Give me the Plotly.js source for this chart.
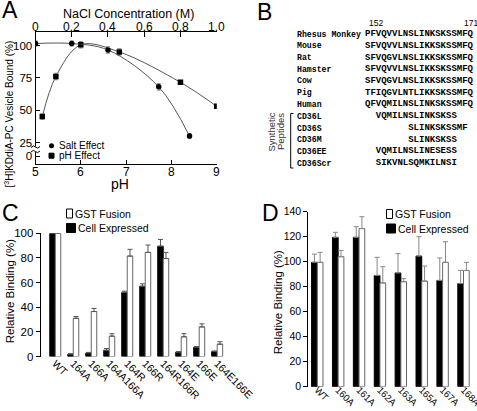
<!DOCTYPE html>
<html>
<head>
<meta charset="utf-8">
<script src="https://cdn.plot.ly/plotly-3.0.1.min.js"></script>
<style>html,body{margin:0;padding:0;background:#fff;}#chart{width:477px;height:411px;}</style>
</head>
<body>
<div id="chart"></div>
<script>
// ---------- Panel A data ----------
const saltConc = [0, 0.2, 0.4, 0.68, 0.85];
const saltBound = [101.5, 101.5, 96.5, 68, 30];
const saltErr = [2, 2, 2.5, 2.5, 2];
const phValues = [5.15, 5.45, 6.0, 6.85, 8.2, 9.0];
const phBound = [45, 76, 100.5, 95, 71.5, 53];
const phErr = [2, 2.5, 2.5, 2.5, 1.5, 1.5];
const phTickVals = [5, 6, 7, 8, 9];
const aYTickVals = [14.3, 25, 50, 75, 100];
const aYTickText = ['0', '25', '50', '75', '100'];
const naclTickVals = [0, 0.2, 0.4, 0.6, 0.8, 1.0];
const naclTickText = ['0', '0.2', '0.4', '0.6', '0.8', '1.0'];

// ---------- Panel B data ----------
const species = ['Rhesus Monkey', 'Mouse', 'Rat', 'Hamster', 'Cow', 'Pig', 'Human'];
const speciesSeqs = ['PFVQVVLNSLINKSKSSMFQ', 'SFVQVVLNSLIKKSKSSMFQ', 'SFVQGVLNSLIKKSKSSMFQ',
  'SFVQVVLNSLIKKSKSSMFQ', 'SFVQGVLNSLIKKSKSSMFQ', 'TFIQGVLNTLIKKSKSSMFQ', 'QFVQMILNSLINKSKSSMFQ'];
const peptides = ['CD36L', 'CD36S', 'CD36M', 'CD36EE', 'CD36Scr'];
const peptideSeqs = ['VQMILNSLINKSKSS', 'SLINKSKSSMF', 'SLINKSKSS', 'VQMILNSLINESESS', 'SIKVNLSQMKILNSI'];
const peptideStart = [154, 160, 160, 154, 154];
const seqFirst = 152, seqLast = 171;

// ---------- Panel C data ----------
const catsC = ['WT', '164A', '166A', '164A166A', '164R', '166R', '164R166R', '164E', '166E', '164E166E'];
const cellC = [100, 1.8, 2.8, 5, 52, 57, 89.5, 3.5, 7.5, 4];
const cellErrC = [2.5, 0.5, 0.5, 1.5, 1, 2, 5.5, 0.5, 0.5, 0.5];
const gstC = [100, 31, 36.5, 16.5, 81.5, 84.5, 79.5, 16, 24, 10];
const gstErrC = [5.5, 1.5, 2.5, 2, 5.5, 6, 5, 2.5, 2.5, 2];

// ---------- Panel D data ----------
const catsD = ['WT', '160A', '161A', '162A', '163A', '165A', '167A', '168A'];
const cellD = [99.5, 119.5, 119.5, 89, 91, 104.5, 85, 82.5];
const cellErrD = [6.5, 4, 8.5, 14.5, 15.5, 15.5, 18, 10.5];
const gstD = [99.5, 104, 126.5, 83, 84, 84.5, 99.5, 93];
const gstErrD = [8, 5, 9.5, 13, 2.5, 12, 16.5, 6.5];

const legendNames = ['GST Fusion', 'Cell Expressed'];

// ---------- helpers ----------
const W = 477, H = 411;
const px = x => x / W;
const py = y => 1 - y / H;
const SANS = 'Liberation Sans, Arial, sans-serif';
const MONO = 'Liberation Mono, Courier New, monospace';
const zeros = a => a.map(() => 0);

const errStyle = (arr, col) => ({type: 'data', array: arr, symmetric: false, arrayminus: zeros(arr),
  color: col, thickness: 1, width: 2.5});

const traces = [];
// Panel A
traces.push({x: saltConc, y: saltBound, xaxis: 'x2', yaxis: 'y', mode: 'lines',
  line: {shape: 'spline', smoothing: 1, color: '#444', width: 0.9}, hoverinfo: 'skip'});
traces.push({x: phValues, y: phBound, xaxis: 'x', yaxis: 'y', mode: 'lines',
  line: {shape: 'spline', smoothing: 1, color: '#444', width: 0.9}, hoverinfo: 'skip'});
traces.push({x: saltConc, y: saltBound, xaxis: 'x2', yaxis: 'y', mode: 'markers',
  marker: {symbol: 'circle', size: 5.5, color: '#000'},
  error_y: {type: 'data', array: saltErr, color: '#888', thickness: 1, width: 2}});
traces.push({x: phValues, y: phBound, xaxis: 'x', yaxis: 'y', mode: 'markers',
  marker: {symbol: 'square', size: 5.5, color: '#000'},
  error_y: {type: 'data', array: phErr, color: '#888', thickness: 1, width: 2}});

// Panel C
const wC = 0.305;
traces.push({type: 'bar', x: catsC, y: cellC, xaxis: 'x3', yaxis: 'y3', width: wC, offset: -wC,
  marker: {color: '#000', line: {color: '#000', width: 1}}, cliponaxis: false,
  error_y: errStyle(cellErrC, '#555')});
traces.push({type: 'bar', x: catsC, y: gstC, xaxis: 'x3', yaxis: 'y3', width: wC, offset: 0,
  marker: {color: '#fff', line: {color: '#666', width: 1}}, cliponaxis: false,
  error_y: errStyle(gstErrC, '#555')});

// Panel D
const wD = 0.273;
traces.push({type: 'bar', x: catsD, y: cellD, xaxis: 'x4', yaxis: 'y4', width: wD, offset: -wD,
  marker: {color: '#000', line: {color: '#000', width: 1}}, cliponaxis: false,
  error_y: errStyle(cellErrD, '#888')});
traces.push({type: 'bar', x: catsD, y: gstD, xaxis: 'x4', yaxis: 'y4', width: wD, offset: 0,
  marker: {color: '#fff', line: {color: '#666', width: 1}}, cliponaxis: false,
  error_y: errStyle(gstErrD, '#888')});

const baseAx = {showgrid: false, zeroline: false, showline: true, linecolor: '#000', linewidth: 1,
  tickcolor: '#000', tickwidth: 1, automargin: false};

const layout = {
  width: W, height: H, margin: {l: 0, r: 0, t: 0, b: 0},
  paper_bgcolor: '#fff', plot_bgcolor: 'rgba(0,0,0,0)', showlegend: false,
  font: {family: SANS, color: '#000', size: 11},
  barmode: 'overlay',
  xaxis: Object.assign({}, baseAx, {domain: [px(35.5), px(216.7)], range: [5, 9], anchor: 'y',
    tickvals: phTickVals, ticks: 'inside', ticklen: 4, showticklabels: false}),
  xaxis2: Object.assign({}, baseAx, {overlaying: 'x', side: 'top', anchor: 'y', range: [0, 1],
    tickvals: naclTickVals, ticks: 'inside', ticklen: 5, showticklabels: false}),
  yaxis: Object.assign({}, baseAx, {domain: [py(164), py(31.5)], range: [8.37, 110.8], anchor: 'x',
    tickvals: aYTickVals, ticktext: aYTickText, ticks: 'inside', ticklen: 4, tickfont: {size: 11.5}}),
  xaxis3: Object.assign({}, baseAx, {domain: [px(40.7), px(228)], range: [-0.81, 9.6], anchor: 'y3',
    type: 'category', showline: false, ticks: '', tickangle: 45, tickfont: {size: 10.5}, ticklabelstandoff: -2}),
  yaxis3: Object.assign({}, baseAx, {domain: [py(356.5), py(233.3)], range: [0, 100], anchor: 'x3',
    dtick: 20, ticks: 'outside', ticklen: 4, tickfont: {size: 11.5}}),
  xaxis4: Object.assign({}, baseAx, {domain: [px(308.3), px(475)], range: [-0.43, 7.55], anchor: 'y4',
    type: 'category', showline: false, ticks: '', tickangle: 45, tickfont: {size: 9.5}, ticklabelstandoff: -5}),
  yaxis4: Object.assign({}, baseAx, {domain: [py(386.7), py(211.7)], range: [0, 140], anchor: 'x4',
    dtick: 20, ticks: 'outside', ticklen: 4, tickfont: {size: 10.5}}),
  annotations: [],
  shapes: []
};

function ann(text, x, y, o) {
  layout.annotations.push(Object.assign({text: text, x: px(x), y: py(y), xref: 'paper', yref: 'paper',
    showarrow: false, xanchor: 'left', yanchor: 'middle', font: {size: 11, family: SANS, color: '#000'}}, o || {}));
}
function box(x0, y0, x1, y1, fill, line) {
  layout.shapes.push({type: 'rect', xref: 'paper', yref: 'paper', x0: px(x0), x1: px(x1), y0: py(y1), y1: py(y0),
    fillcolor: fill, line: {color: line, width: 1}});
}

// panel letters
ann('A', 0, 10, {font: {size: 23, family: SANS}});
ann('B', 255, 12, {font: {size: 23, family: SANS}});
ann('C', 0, 213, {font: {size: 23, family: SANS}});
ann('D', 260, 213, {font: {size: 23, family: SANS}});

// Panel A tick labels on the two x axes (positioned by the axes' own scales)
phTickVals.forEach(v => layout.annotations.push({text: String(v), x: v, xref: 'x', y: py(171.5), yref: 'paper',
  xanchor: 'center', yanchor: 'middle', showarrow: false, font: {size: 12, family: SANS, color: '#000'}}));
naclTickVals.forEach((v, i) => layout.annotations.push({text: naclTickText[i], x: v, xref: 'x2', y: py(27), yref: 'paper',
  xanchor: 'center', yanchor: 'middle', showarrow: false, font: {size: 12, family: SANS, color: '#000'}}));

// Panel A titles and legend
ann('NaCl Concentration (M)', 128, 14, {xanchor: 'center', font: {size: 12.5, family: SANS}});
ann('pH', 120, 183.5, {xanchor: 'center', font: {size: 14, family: SANS}});
ann('[<sup>3</sup>H]KDdiA-PC Vesicle Bound (%)', 8.5, 114, {xanchor: 'center', textangle: -90, font: {size: 10, family: SANS}});
layout.shapes.push({type: 'circle', xref: 'paper', yref: 'paper', x0: px(49), x1: px(54), y0: py(148.2), y1: py(143.2),
  fillcolor: '#000', line: {color: '#000', width: 0}});
box(49, 153.2, 54, 158.2, '#000', '#000');
ann('Salt Effect', 57, 145.7, {font: {size: 10, family: SANS}});
ann('pH Effect', 57, 155.7, {font: {size: 10, family: SANS}});
// axis break
box(33, 146.5, 38, 152, '#fff', 'rgba(0,0,0,0)');
layout.shapes.push({type: 'path', xref: 'paper', yref: 'paper',
  path: `M ${px(31)} ${py(147.5)} Q ${px(33.5)} ${py(144.5)} ${px(35.5)} ${py(147)} T ${px(40)} ${py(146.5)}`,
  line: {color: '#000', width: 1}});
layout.shapes.push({type: 'path', xref: 'paper', yref: 'paper',
  path: `M ${px(31)} ${py(152)} Q ${px(33.5)} ${py(149)} ${px(35.5)} ${py(151.5)} T ${px(40)} ${py(151)}`,
  line: {color: '#000', width: 1}});

// Panel B
ann(String(seqFirst), 366.5, 23.3, {font: {size: 8.5, family: SANS}});
ann(String(seqLast), 462, 23.3, {font: {size: 8.5, family: SANS}});
const rowY0 = 34, rowDy = 11.75;
species.forEach((s, i) => {
  ann('<b>' + s + '</b>', 294.5, rowY0 + i * rowDy, {font: {size: 8.2, family: MONO}});
  ann('<b>' + speciesSeqs[i] + '</b>', 362.5, rowY0 + i * rowDy, {font: {size: 9, family: MONO}});
});
peptides.forEach((s, i) => {
  const yy = rowY0 + (i + species.length) * rowDy;
  ann('<b>' + s + '</b>', 294.5, yy, {font: {size: 8.2, family: MONO}});
  ann('<b>' + '\u00A0'.repeat(peptideStart[i] - seqFirst) + peptideSeqs[i] + '</b>', 362.5, yy, {font: {size: 9, family: MONO}});
});
layout.shapes.push({type: 'path', xref: 'paper', yref: 'paper',
  path: `M ${px(293.5)} ${py(113.5)} L ${px(290.7)} ${py(113.5)} L ${px(290.7)} ${py(168)} L ${px(293.5)} ${py(168)}`,
  line: {color: '#000', width: 1}});
ann('Synthetic', 270.5, 132, {xanchor: 'center', textangle: -90, font: {size: 9.5, family: SANS, color: '#333'}});
ann('Peptides', 280, 132, {xanchor: 'center', textangle: -90, font: {size: 9.5, family: SANS, color: '#333'}});

// Panel C / D axis titles
ann('Relative Binding (%)', 9.5, 291.7, {xanchor: 'center', textangle: -90, font: {size: 11.5, family: SANS}});
ann('Relative Binding (%)', 278, 302.3, {xanchor: 'center', textangle: -90, font: {size: 11.5, family: SANS}});

// Legends C and D
function barLegend(x, yTop) {
  box(x, yTop - 4.5, x + 6, yTop + 4.5, '#fff', '#000');
  box(x, yTop + 10, x + 9, yTop + 19, '#000', '#000');
  ann(legendNames[0], x + 6.5, yTop, {font: {size: 10.5, family: SANS}});
  ann(legendNames[1], x + 9.5, yTop + 14.7, {font: {size: 10.5, family: SANS}});
}
barLegend(66.5, 213.5);
barLegend(386.5, 214);

Plotly.newPlot('chart', traces, layout, {staticPlot: true});
</script>
</body>
</html>
